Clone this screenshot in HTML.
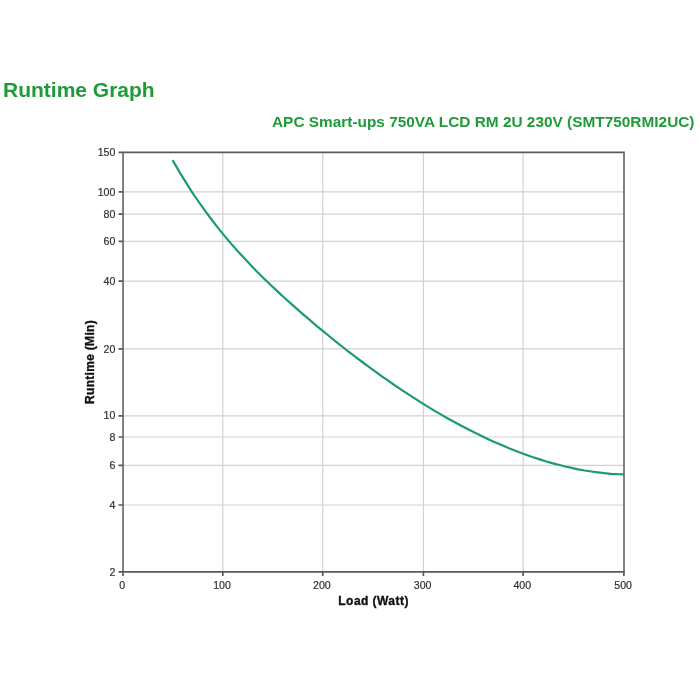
<!DOCTYPE html>
<html><head><meta charset="utf-8">
<style>
html,body{margin:0;padding:0;background:#fff;width:700px;height:700px;overflow:hidden;}
body{position:relative;font-family:"Liberation Sans",Arial,sans-serif;}
.t{position:absolute;white-space:nowrap;line-height:1;}
#title{left:3px;top:79px;font-size:21px;font-weight:bold;color:#1f9a38;}
#sub{left:272px;top:114px;font-size:15.4px;font-weight:bold;color:#1f9a38;}
svg{position:absolute;left:0;top:0;}
.f{font-family:"Liberation Sans",Arial,sans-serif;}
</style></head><body>
<div class="t" id="title">Runtime Graph</div>
<div class="t" id="sub">APC Smart-ups 750VA LCD RM 2U 230V (SMT750RMI2UC)</div>
<svg width="700" height="700" viewBox="0 0 700 700">
<g stroke="#d2d2d2" stroke-width="1.2" fill="none">
<line x1="123.05" y1="191.9" x2="624.0" y2="191.9"/>
<line x1="123.05" y1="214.1" x2="624.0" y2="214.1"/>
<line x1="123.05" y1="241.4" x2="624.0" y2="241.4"/>
<line x1="123.05" y1="281.2" x2="624.0" y2="281.2"/>
<line x1="123.05" y1="348.9" x2="624.0" y2="348.9"/>
<line x1="123.05" y1="415.8" x2="624.0" y2="415.8"/>
<line x1="123.05" y1="437.0" x2="624.0" y2="437.0"/>
<line x1="123.05" y1="465.3" x2="624.0" y2="465.3"/>
<line x1="123.05" y1="505.0" x2="624.0" y2="505.0"/>
<line x1="222.8" y1="152.4" x2="222.8" y2="571.9"/>
<line x1="322.7" y1="152.4" x2="322.7" y2="571.9"/>
<line x1="423.4" y1="152.4" x2="423.4" y2="571.9"/>
<line x1="523.1" y1="152.4" x2="523.1" y2="571.9"/>
</g>
<path d="M172.6,160.1 L179.1,171.4 L185.7,182.1 L192.2,192.3 L198.8,202.0 L205.3,211.2 L211.9,220.0 L218.4,228.4 L224.9,236.4 L231.5,244.1 L238.0,251.5 L244.6,258.6 L251.1,265.5 L257.6,272.2 L264.2,278.7 L270.7,285.0 L277.3,291.1 L283.8,297.2 L290.4,303.1 L296.9,308.9 L303.4,314.6 L310.0,320.2 L316.5,325.8 L323.1,331.2 L329.6,336.5 L336.2,341.8 L342.7,347.0 L349.2,352.1 L355.8,357.1 L362.3,362.0 L368.9,366.9 L375.4,371.6 L381.9,376.3 L388.5,380.9 L395.0,385.5 L401.6,389.9 L408.1,394.2 L414.7,398.4 L421.2,402.6 L427.7,406.6 L434.3,410.6 L440.8,414.4 L447.4,418.2 L453.9,421.8 L460.4,425.3 L467.0,428.8 L473.5,432.1 L480.1,435.3 L486.6,438.4 L493.2,441.4 L499.7,444.3 L506.2,447.1 L512.8,449.7 L519.3,452.3 L525.9,454.7 L532.4,457.0 L539.0,459.1 L545.5,461.2 L552.0,463.1 L558.6,464.8 L565.1,466.5 L571.7,467.9 L578.2,469.3 L584.7,470.5 L591.3,471.5 L597.8,472.4 L604.4,473.2 L610.9,473.8 L617.5,474.2 L624.0,474.4" stroke="#1a9c6c" stroke-width="2.2" fill="none" stroke-linejoin="round" stroke-linecap="butt"/>
<g stroke="#5a5a5a" stroke-width="1.7" fill="none">
<path d="M122.2,152.4H624.85 M122.2,571.9H624.85"/>
<path stroke="#6c6c6c" d="M123.05,152.4V571.9 M624.0,152.4V571.9"/>
<path d="M118.5,152.4H123.05 M118.5,191.9H123.05 M118.5,214.1H123.05 M118.5,241.4H123.05 M118.5,281.2H123.05 M118.5,348.9H123.05 M118.5,415.8H123.05 M118.5,437.0H123.05 M118.5,465.3H123.05 M118.5,505.0H123.05 M118.5,571.9H123.05 M123.0,571.9V576.1 M222.8,571.9V576.1 M322.7,571.9V576.1 M423.4,571.9V576.1 M523.1,571.9V576.1 M623.9,571.9V576.1"/>
</g>
<g class="f" font-size="10.6" fill="#333333" stroke="#333333" stroke-width="0.2" text-anchor="end">
<text x="115.4" y="156.0">150</text>
<text x="115.4" y="195.5">100</text>
<text x="115.4" y="217.7">80</text>
<text x="115.4" y="245.0">60</text>
<text x="115.4" y="284.8">40</text>
<text x="115.4" y="352.5">20</text>
<text x="115.4" y="419.4">10</text>
<text x="115.4" y="440.6">8</text>
<text x="115.4" y="468.9">6</text>
<text x="115.4" y="508.6">4</text>
<text x="115.4" y="575.5">2</text>
</g>
<g class="f" font-size="10.6" fill="#333333" stroke="#333333" stroke-width="0.2" text-anchor="middle">
<text x="122.2" y="589">0</text>
<text x="222.0" y="589">100</text>
<text x="321.9" y="589">200</text>
<text x="422.6" y="589">300</text>
<text x="522.3" y="589">400</text>
<text x="623.1" y="589">500</text>
</g>
<text x="373.6" y="605" class="f" font-size="12" font-weight="bold" fill="#111" stroke="#111" stroke-width="0.35" text-anchor="middle" letter-spacing="0.45">Load (Watt)</text>
<text transform="translate(94.2,362) rotate(-90)" class="f" font-size="12" font-weight="bold" fill="#111" stroke="#111" stroke-width="0.35" text-anchor="middle" letter-spacing="0.3">Runtime (Min)</text>
</svg>
</body></html>
